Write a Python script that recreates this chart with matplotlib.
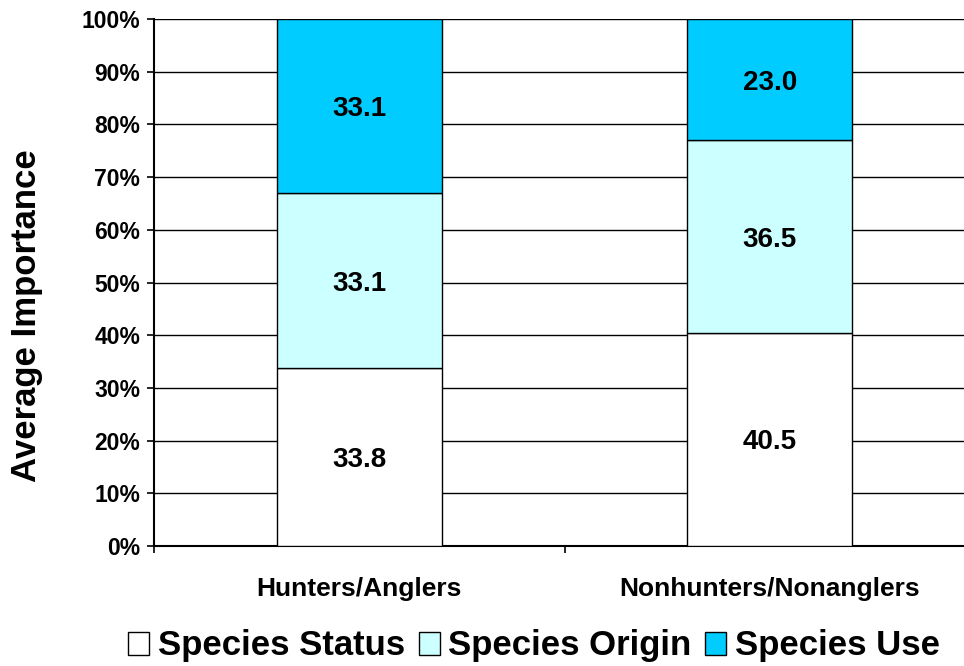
import matplotlib
matplotlib.use("Agg")
import matplotlib.pyplot as plt
from matplotlib.ticker import PercentFormatter, FixedLocator

plt.rcParams["font.family"] = ["Liberation Sans", "DejaVu Sans"]
plt.rcParams["font.weight"] = "bold"

groups = ["Hunters/Anglers", "Nonhunters/Nonanglers"]
series = ["Species Status", "Species Origin", "Species Use"]
status = [33.8, 40.5]
origin = [33.1, 36.5]
use = [33.1, 23.0]
colors = ["#FFFFFF", "#CCFFFF", "#00CCFF"]

fig = plt.figure(figsize=(9.64, 6.66), dpi=100)
ax = fig.add_axes([154 / 964, 1 - 546 / 666, 821 / 964, 527 / 666])

x = list(range(len(groups)))
bottom = [0.0] * len(groups)
handles = []
for name, vals, col in zip(series, [status, origin, use], colors):
    bars = ax.bar(x, vals, width=0.402, bottom=bottom, color=col,
                  edgecolor="black", linewidth=1.0, label=name, zorder=3)
    handles.append(bars)
    for xi, b, v in zip(x, bottom, vals):
        ax.text(xi, b + v / 2 - 0.6, f"{v:.1f}", ha="center", va="center",
                fontsize=20, fontweight="bold", zorder=4)
    bottom = [b + v for b, v in zip(bottom, vals)]

ax.set_xlim(-0.5, 1.5)
ax.set_ylim(0, 100)
ax.yaxis.set_major_locator(FixedLocator(range(0, 101, 10)))
ax.yaxis.set_major_formatter(PercentFormatter(decimals=0))
ax.grid(axis="y", color="black", linewidth=1.0, zorder=0)
ax.set_axisbelow(True)

ax.set_xticks(x)
ax.set_xticklabels(groups, fontsize=19, fontweight="bold")
ax.set_xticks([-0.5, 0.5, 1.5], minor=True)
ax.tick_params(axis="x", which="major", length=0, pad=22)
ax.tick_params(axis="x", which="minor", length=5, width=1.2, direction="out")
ax.tick_params(axis="y", length=5, width=1.2, direction="out", pad=5, labelsize=16.5)
for lab in ax.get_yticklabels():
    lab.set_fontweight("bold")

for s in ["top", "right"]:
    ax.spines[s].set_visible(False)
for s in ["left", "bottom"]:
    ax.spines[s].set_linewidth(1.5)
    ax.spines[s].set_color("black")

ax.set_ylabel("Average Importance", fontsize=25, fontweight="bold")
ax.yaxis.set_label_coords(-0.135, 0.438)

fig.legend(handles=handles, labels=series, loc="center", bbox_to_anchor=(534 / 964, 1 - 646 / 666),
           ncol=3, frameon=False, fontsize=25, handlelength=0.6, handleheight=0.65,
           handletextpad=0.25, columnspacing=0.4, borderpad=0)

fig.savefig("out.png", dpi=100, facecolor="white")
